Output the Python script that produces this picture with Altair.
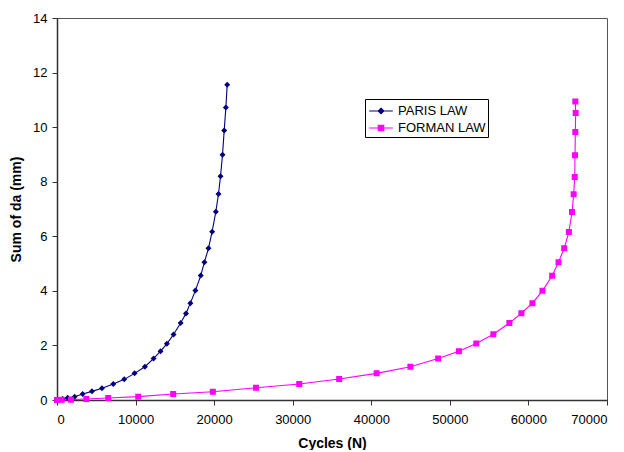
import altair as alt
import pandas as pd

paris_n = [0, 720, 1356, 2246, 3263, 4449, 5720, 7161, 8559, 9873, 11186, 12288,
           13178, 13983, 14831, 15736, 16418, 16972, 17612, 18294, 18763, 19275,
           19744, 20213, 20554, 20810, 21066, 21279, 21493, 21663]
paris_a = [0, 0.037, 0.085, 0.122, 0.22, 0.317, 0.427, 0.585, 0.756, 0.976, 1.22, 1.52,
           1.79, 2.06, 2.40, 2.82, 3.17, 3.55, 4.01, 4.56, 5.05, 5.56,
           6.17, 6.90, 7.55, 8.20, 8.99, 9.88, 10.72, 11.55]

forman_n = [0, 593, 1780, 3729, 6525, 10339, 14788, 19830, 25330, 30832, 35915,
            40681, 44979, 48511, 51149, 53362, 55532, 57574, 59106, 60511, 61787,
            63021, 63830, 64553, 65149, 65550, 65760, 65890, 65930, 65970, 66010, 65970]
forman_a = [0, 0.005, 0.012, 0.037, 0.073, 0.122, 0.22, 0.305, 0.45, 0.585, 0.768,
            0.976, 1.22, 1.52, 1.79, 2.07, 2.41, 2.82, 3.18, 3.55, 4.00,
            4.55, 5.05, 5.56, 6.16, 6.89, 7.54, 8.17, 8.97, 9.82, 10.52, 10.94]

series = ["PARIS LAW", "FORMAN LAW"]
colors = ["#000080", "#FF00FF"]
x_ticks = [0, 10000, 20000, 30000, 40000, 50000, 60000, 70000]
y_ticks = [0, 2, 4, 6, 8, 10, 12, 14]

rows = []
for i, (n, a) in enumerate(zip(paris_n, paris_a)):
    rows.append({"series": series[0], "N": n, "a": a, "order": i})
for i, (n, a) in enumerate(zip(forman_n, forman_a)):
    rows.append({"series": series[1], "N": n, "a": a, "order": i})
df = pd.DataFrame(rows)

FONT = "Liberation Sans"

# marker glyph plus a horizontal stroke segment (stroke only shows in legend)
diamond_path = "M-1.3,0H1.3M0,-0.3L0.3,0L0,0.3L-0.3,0Z"
square_path = "M-1.3,0H1.3M-0.3,-0.3H0.3V0.3H-0.3Z"

x_enc = alt.X("N:Q", title="Cycles (N)",
              scale=alt.Scale(domain=[0, 70000], nice=False),
              axis=alt.Axis(values=x_ticks, format="d"))
y_enc = alt.Y("a:Q", title="Sum of da (mm)",
              scale=alt.Scale(domain=[0, 14], nice=False),
              axis=alt.Axis(values=y_ticks, format="d"))
color_enc = alt.Color("series:N", title=None,
                      scale=alt.Scale(domain=series, range=colors),
                      legend=alt.Legend(
                          orient="none", legendX=308, legendY=81,
                          direction="vertical",
                          strokeColor="#000", fillColor="#fff",
                          padding=2, rowPadding=0,
                          labelFont=FONT, labelFontSize=13, labelColor="#000",
                          symbolSize=330, symbolStrokeWidth=1.2,
                          symbolOpacity=1, symbolOffset=4,
                          labelOffset=7))
shape_enc = alt.Shape("series:N", title=None,
                      scale=alt.Scale(domain=series, range=[diamond_path, square_path]))

line = alt.Chart(df).mark_line(strokeWidth=1.1).encode(
    x=x_enc, y=y_enc, color=color_enc, order="order:Q", detail="series:N")

points = alt.Chart(df).mark_point(filled=True, opacity=1, strokeWidth=0, size=400).encode(
    x=x_enc, y=y_enc, color=color_enc, shape=shape_enc)

chart = alt.layer(line, points).properties(
    width=550, height=382,
    autosize=alt.AutoSizeParams(type="none"),
    padding={"left": 49, "top": 10, "right": 8, "bottom": 50},
    background="white",
).configure_view(
    stroke="#555", strokeWidth=1
).configure_axis(
    grid=False,
    domainColor="#333", domainWidth=1.5,
    tickColor="#333", tickSize=5, tickWidth=1,
    labelFont=FONT, labelFontSize=13, labelColor="#000",
    titleFont=FONT, titleFontSize=14, titleColor="#000", titleFontWeight="bold",
).configure_axisX(
    labelPadding=8, titlePadding=10,
).configure_axisY(
    labelPadding=5, titlePadding=9,
)

chart.save("out.html", embed_options={"renderer": "svg", "actions": False})
